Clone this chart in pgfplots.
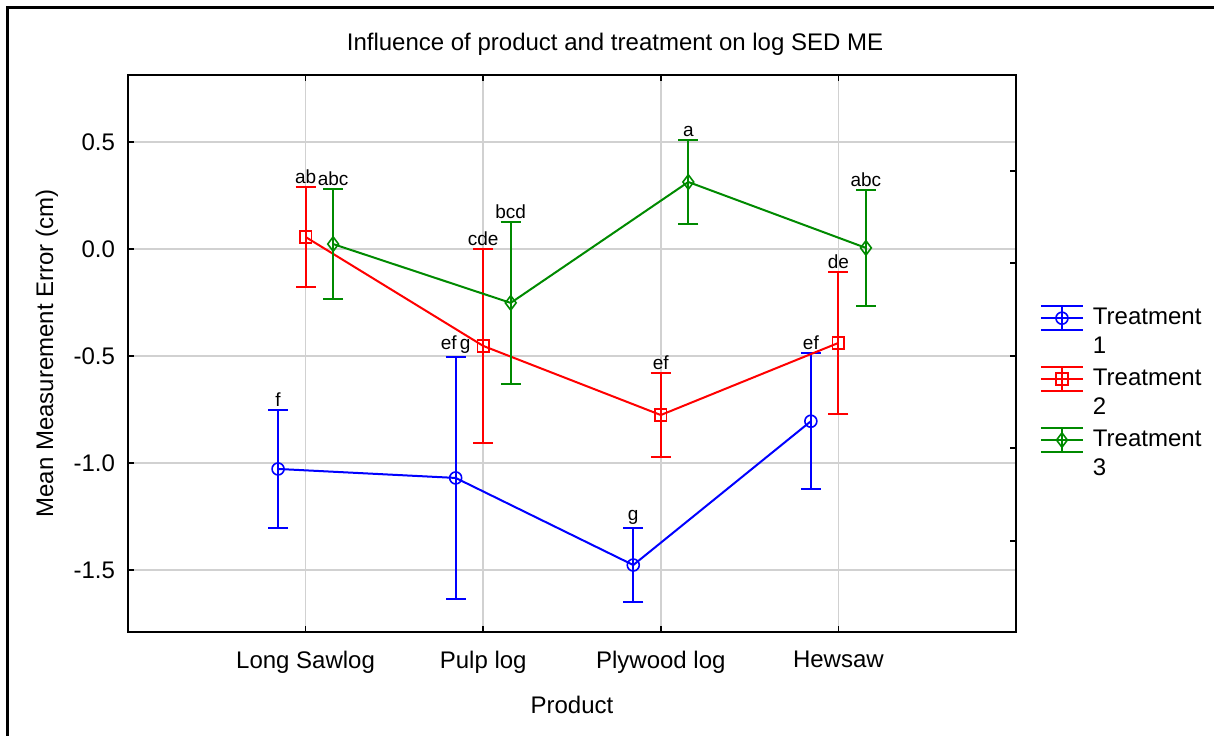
\documentclass[border=0pt]{standalone}
\usepackage{pgfplots}
\pgfplotsset{compat=1.18}
\usepackage{fontspec}
\setmainfont{Liberation Sans}
\definecolor{tblue}{RGB}{0,0,255}
\definecolor{tred}{RGB}{255,0,0}
\definecolor{tgreen}{RGB}{0,138,0}
\begin{document}
\begin{tikzpicture}
\path[use as bounding box] (-64pt,-51.5pt) rectangle (543pt,316pt);
\draw[line width=1.5pt] (-60pt,-52pt) -- (-60pt,312pt) -- (544pt,312pt);
\node[font=\fontsize{12}{14}\selectfont] at (243.5pt,294pt) {Influence of product and treatment on log SED ME};
\begin{axis}[
 at={(0pt,0pt)}, anchor=south west, scale only axis, width=444pt, height=278.5pt,
 xmin=-1, xmax=4, ymin=-1.79, ymax=0.813,
 xtick={0,1,2,3}, xticklabels={Long Sawlog, Pulp log, Plywood log, Hewsaw},
 ytick={-1.5,-1,-0.5,0,0.5}, yticklabels={-1.5,-1.0,-0.5,0.0,0.5},
 ytick pos=left, xtick pos=both,
 tick align=inside, major tick length=3pt,
 tick style={black, line width=0.8pt},
 axis line style={line width=1pt},
 grid=major, major grid style={black!18, line width=0.8pt},
 ticklabel style={font=\fontsize{12}{14}\selectfont},
 xticklabel style={yshift=-6pt},
 yticklabel style={xshift=-3pt},
 xlabel={Product}, ylabel={Mean Measurement Error (cm)},
 label style={font=\fontsize{12}{14}\selectfont},
 xlabel style={at={(axis description cs:0.5,-0.131)}, anchor=center},
 ylabel style={at={(axis description cs:-0.0912,0.5)}, anchor=center},
 legend style={draw=none, fill=none, at={(1.027,0.589)}, anchor=north west, inner sep=0pt, outer sep=0pt, row sep=2.2pt, column sep=2.5pt, font=\fontsize{12}{14.5}\selectfont, cells={align=left}},
 legend image code/.code={
   \begin{scope}[yshift=7pt]
   \draw[mark repeat=2,mark phase=2,#1] plot coordinates {(0pt,0pt) (10.5pt,0pt) (21pt,0pt)};
   \draw[#1] (0pt,6pt) -- (21pt,6pt);
   \draw[#1] (0pt,-6pt) -- (21pt,-6pt);
   \draw[#1] (10.5pt,-6pt) -- (10.5pt,6pt);
   \end{scope}
 },
]
\addplot[tblue, line width=1pt, mark=o, mark size=3pt, mark options={line width=0.8pt},
 error bars/.cd, y dir=both, y explicit, error bar style={line width=1pt}, error mark options={rotate=90, line width=1pt, mark size=5pt}]
 coordinates {(-0.155,-1.028) +- (0,0.277) (0.845,-1.070) +- (0,0.565) (1.845,-1.477) +- (0,0.175) (2.845,-0.805) +- (0,0.318)};
\addlegendentry{Treatment\\1}
\addplot[tred, line width=1pt, mark=square, mark size=2.9pt, mark options={line width=0.8pt},
 error bars/.cd, y dir=both, y explicit, error bar style={line width=1pt}, error mark options={rotate=90, line width=1pt, mark size=5pt}]
 coordinates {(0,0.056) +- (0,0.232) (1,-0.453) +- (0,0.452) (2,-0.776) +- (0,0.197) (3,-0.439) +- (0,0.330)};
\addlegendentry{Treatment\\2}
\addplot[tgreen, line width=1pt, mark=diamond, mark size=3.6pt, mark options={line width=0.8pt},
 error bars/.cd, y dir=both, y explicit, error bar style={line width=1pt}, error mark options={rotate=90, line width=1pt, mark size=5pt}]
 coordinates {(0.155,0.023) +- (0,0.256) (1.155,-0.252) +- (0,0.378) (2.155,0.313) +- (0,0.194) (3.155,0.005) +- (0,0.272)};
\addlegendentry{Treatment\\3}
\addplot[draw=none, mark=none, forget plot, nodes near coords, point meta=explicit symbolic,
 nodes near coords style={anchor=south, font=\fontsize{9.5}{11}\selectfont, inner sep=1.5pt, text=black}]
 coordinates {(-0.155,-0.751) [f] (0.845,-0.505) [ef\,g] (1.845,-1.302) [g] (2.845,-0.487) [ef]
 (0,0.288) [ab] (1,-0.001) [cde] (2,-0.579) [ef] (3,-0.109) [de]
 (0.155,0.279) [abc] (1.155,0.126) [bcd] (2.155,0.507) [a] (3.155,0.277) [abc]};
\end{axis}
\begin{axis}[
 at={(0pt,0pt)}, anchor=south west, scale only axis, width=444pt, height=278.5pt,
 xmin=-1, xmax=4, ymin=-1.79, ymax=0.813,
 axis x line=none, axis y line*=right,
 ytick={-1.364,-0.930,-0.5,-0.065,0.364}, yticklabels={},
 tick align=inside, major tick length=3pt,
 tick style={black, line width=0.8pt},
 axis line style={line width=1pt},
]
\addplot[draw=none, mark=none] coordinates {(0,0)};
\end{axis}
\end{tikzpicture}
\end{document}
